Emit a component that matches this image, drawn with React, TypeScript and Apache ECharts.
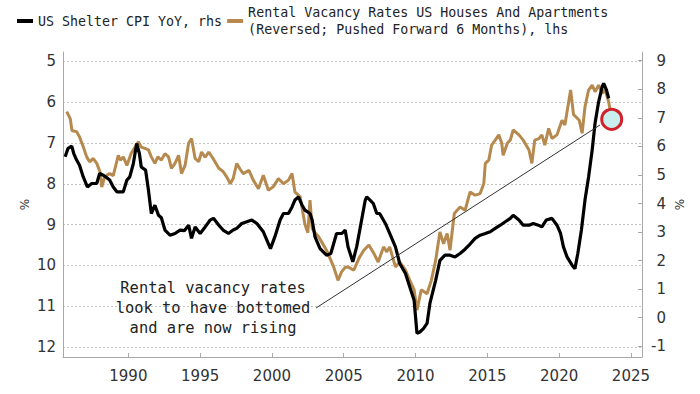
import React, { useEffect, useRef } from "react";
import * as echarts from "echarts";

const shelterName = "US Shelter CPI YoY, rhs";
const vacancyName = "Rental Vacancy Rates US Houses And Apartments\n(Reversed; Pushed Forward 6 Months), lhs";

const shelterYears = [
  1985.6, 1985.8, 1986.06, 1986.2, 1986.4, 1986.6, 1986.86, 1987.15, 1987.45, 1987.8,
  1988.0, 1988.26, 1988.5, 1988.7, 1988.95, 1989.2, 1989.4, 1989.65, 1989.9, 1990.1,
  1990.35, 1990.58, 1990.77, 1990.9, 1991.2, 1991.4, 1991.6, 1991.85, 1992.1, 1992.3,
  1992.55, 1992.9, 1993.25, 1993.6, 1993.9, 1994.2, 1994.4, 1994.65, 1995.0, 1995.35,
  1995.7, 1995.93, 1996.3, 1996.6, 1996.97, 1997.3, 1997.55, 1997.9, 1998.25, 1998.6,
  1998.95, 1999.4, 1999.9, 2000.2, 2000.57, 2000.8, 2001.15, 2001.4, 2001.6, 2001.85,
  2002.1, 2002.3, 2002.65, 2002.8, 2003.0, 2003.35, 2003.8, 2004.1, 2004.5, 2004.87,
  2005.1, 2005.3, 2005.63, 2005.9, 2006.2, 2006.5, 2006.6, 2006.83, 2007.06, 2007.3,
  2007.5, 2007.9, 2008.2, 2008.6, 2008.9, 2009.3, 2009.6, 2009.9, 2010.1, 2010.3,
  2010.55, 2010.8, 2011.0, 2011.4, 2011.7, 2012.05, 2012.4, 2012.75, 2013.1, 2013.45,
  2013.8, 2014.15, 2014.5, 2014.86, 2015.2, 2015.55, 2015.9, 2016.25, 2016.6, 2016.8,
  2017.2, 2017.5, 2017.9, 2018.2, 2018.5, 2018.8, 2019.1, 2019.5, 2019.85, 2020.1,
  2020.3, 2020.55, 2020.9, 2021.1, 2021.3, 2021.55, 2021.8, 2022.05, 2022.3, 2022.5,
  2022.75, 2023.0, 2023.1, 2023.3, 2023.45,
];
const shelterValues = [
  5.64, 5.93, 6.01, 5.75, 5.52, 5.34, 4.93, 4.58, 4.7, 4.7,
  5.05, 4.99, 4.9, 4.82, 4.58, 4.41, 4.41, 4.41, 4.82, 4.93,
  5.4, 6.1, 5.75, 5.28, 5.17, 4.47, 3.65, 3.94, 3.59, 3.5,
  3.07, 2.89, 2.95, 3.07, 3.05, 3.24, 2.78, 3.18, 2.95, 3.18,
  3.42, 3.48, 3.24, 3.07, 2.95, 3.07, 3.13, 3.3, 3.36, 3.42,
  3.3, 3.01, 2.42, 2.83, 3.42, 3.65, 3.65, 3.88, 4.12, 4.23,
  3.94, 3.77, 3.65, 3.42, 2.83, 2.42, 2.19, 2.25, 2.95, 2.95,
  3.07, 2.48, 1.96, 2.48, 3.3, 4.12, 4.23, 4.12, 4.0, 3.65,
  3.65, 3.3, 2.95, 2.48, 1.9, 1.55, 1.08, 0.61, -0.55, -0.5,
  -0.38, -0.2, 0.5, 1.31, 2.01, 2.19, 2.19, 2.13, 2.25, 2.4,
  2.58, 2.78, 2.89, 2.95, 3.01, 3.13, 3.24, 3.36, 3.48, 3.59,
  3.42, 3.24, 3.24, 3.3, 3.25, 3.18, 3.42, 3.48, 3.24, 2.95,
  2.48, 2.13, 1.84, 1.72, 2.25, 3.07, 4.12, 4.93, 5.87, 6.81,
  7.56, 8.09, 8.21, 7.97, 7.68,
];

const vacancyYears = [
  1985.71, 1985.95, 1986.08, 1986.4, 1986.6, 1986.86, 1987.1, 1987.3, 1987.56, 1987.8,
  1988.03, 1988.15, 1988.35, 1988.7, 1988.95, 1989.3, 1989.45, 1989.65, 1989.9, 1990.2,
  1990.47, 1990.7, 1990.9, 1991.15, 1991.4, 1991.6, 1991.85, 1992.05, 1992.3, 1992.55,
  1992.8, 1993.0, 1993.25, 1993.5, 1993.7, 1993.95, 1994.2, 1994.4, 1994.65, 1994.9,
  1995.1, 1995.35, 1995.6, 1995.9, 1996.3, 1996.6, 1996.85, 1997.1, 1997.3, 1997.55,
  1997.8, 1998.0, 1998.4, 1998.7, 1999.06, 1999.4, 1999.75, 2000.1, 2000.45, 2000.8,
  2001.15, 2001.4, 2001.6, 2001.96, 2002.3, 2002.5, 2002.65, 2002.8, 2003.0, 2003.25,
  2003.5, 2003.8, 2004.3, 2004.6, 2004.85, 2005.1, 2005.3, 2005.7, 2006.1, 2006.4,
  2006.75, 2007.1, 2007.4, 2007.77, 2008.0, 2008.2, 2008.6, 2008.9, 2009.3, 2009.6,
  2009.9, 2010.1, 2010.4, 2010.8, 2011.1, 2011.4, 2011.7, 2011.95, 2012.2, 2012.4,
  2012.7, 2013.1, 2013.45, 2013.8, 2014.15, 2014.5, 2014.75, 2014.86, 2015.1, 2015.3,
  2015.55, 2015.8, 2016.0, 2016.1, 2016.4, 2016.6, 2016.8, 2017.2, 2017.5, 2017.9,
  2018.1, 2018.3, 2018.6, 2018.8, 2019.0, 2019.27, 2019.5, 2019.85, 2020.2, 2020.4,
  2020.8, 2021.0, 2021.4, 2021.6, 2021.8, 2022.05, 2022.3, 2022.5, 2022.75, 2023.0,
  2023.2, 2023.45, 2023.6,
];
const vacancyValues = [
  6.23, 6.4, 6.7, 6.72, 6.85, 7.09, 7.34, 7.46, 7.38, 7.5,
  7.71, 8.08, 7.83, 7.75, 7.8, 7.3, 7.42, 7.34, 7.55, 7.25,
  7.1, 6.97, 7.1, 7.13, 7.17, 7.34, 7.5, 7.34, 7.42, 7.26,
  7.34, 7.62, 7.5, 7.3, 7.75, 7.55, 7.0, 6.89, 7.38, 7.46,
  7.22, 7.35, 7.22, 7.38, 7.62, 7.7, 7.83, 8.0, 7.87, 7.5,
  7.65, 7.75, 7.67, 7.91, 8.12, 7.79, 8.16, 8.07, 7.87, 8.0,
  7.91, 7.75, 8.2, 8.32, 9.0, 9.2, 8.4, 9.1, 9.2, 9.3,
  9.45, 9.63, 10.04, 10.37, 10.16, 10.05, 10.04, 10.12, 9.8, 9.63,
  9.5, 9.71, 9.92, 9.55, 9.67, 9.55, 10.04, 9.92, 10.12, 10.37,
  10.6, 11.1, 10.6, 10.7, 10.37, 9.88, 9.18, 9.47, 9.22, 9.63,
  8.73, 8.57, 8.65, 8.2, 8.28, 8.24, 8.0, 7.5, 7.42, 7.05,
  6.93, 6.8, 7.0, 7.3, 7.0, 6.93, 6.68, 6.8, 6.93, 7.17,
  7.5, 6.93, 6.89, 6.8, 7.05, 6.64, 6.89, 6.8, 6.44, 6.56,
  5.7, 6.3, 6.44, 6.76, 6.11, 5.7, 5.58, 5.74, 5.58, 5.78,
  5.7, 5.99, 6.3,
];

const xTickYears = [1990, 1995, 2000, 2005, 2010, 2015, 2020, 2025];
const leftTicks = [5, 6, 7, 8, 9, 10, 11, 12];
const rightTicks = [-1, 0, 1, 2, 3, 4, 5, 6, 7, 8, 9];
const annotationLines = ["Rental vacancy rates", "look to have bottomed", "and are now rising"];

const mono = "'DejaVu Sans Mono', 'Liberation Mono', monospace";
const sans = "'DejaVu Sans', 'Noto Sans', sans-serif";

export default function App() {
  const ref = useRef<HTMLDivElement>(null);

  useEffect(() => {
    if (!ref.current) return;
    const chart = echarts.init(ref.current, null, { renderer: "svg" });
    const shelterData = shelterYears.map((y, i) => [y, shelterValues[i]]);
    const vacancyData = vacancyYears.map((y, i) => [y, vacancyValues[i]]);

    chart.setOption({
      animation: false,
      backgroundColor: "#ffffff",
      legend: {
        data: [shelterName, vacancyName],
        left: 17,
        top: 4,
        icon: "rect",
        itemWidth: 16,
        itemHeight: 4,
        itemGap: 5,
        padding: 0,
        textStyle: {
          fontFamily: mono,
          fontSize: 13.3,
          lineHeight: 17,
          color: "#222",
        },
      },
      grid: { left: 63, right: 58, top: 52, bottom: 37, containLabel: false },
      xAxis: {
        type: "value",
        min: 1985.45,
        max: 2025.77,
        axisLine: { show: true, onZero: false, lineStyle: { color: "#a8a8a8", width: 1 } },
        axisTick: {
          show: true,
          inside: true,
          length: 4,
          customValues: xTickYears,
          lineStyle: { color: "#a8a8a8" },
        },
        axisLabel: {
          customValues: xTickYears,
          formatter: (v: number) => String(Math.round(v)),
          color: "#333",
          fontFamily: sans,
          fontSize: 15,
          margin: 11,
        },
        splitLine: { show: false },
      },
      yAxis: [
        {
          type: "value",
          position: "left",
          inverse: true,
          min: 4.767,
          max: 12.25,
          name: "%",
          nameLocation: "middle",
          nameGap: 32,
          nameRotate: 90,
          nameMoveOverlap: false,
          nameTextStyle: { color: "#333", fontFamily: sans, fontSize: 12 },
          axisLine: { show: true, onZero: false, lineStyle: { color: "#a8a8a8", width: 1 } },
          axisTick: { show: false, customValues: leftTicks },
          axisLabel: {
            customValues: leftTicks,
            color: "#333",
            fontFamily: sans,
            fontSize: 15,
            margin: 7,
          },
          splitLine: {
            show: true,
            lineStyle: { color: "#c4c4c4", width: 1, type: [2, 2] },
          },
        },
        {
          type: "value",
          position: "right",
          min: -1.375,
          max: 9.305,
          name: "%",
          nameLocation: "middle",
          nameGap: 32,
          nameRotate: 90,
          nameMoveOverlap: false,
          nameTextStyle: { color: "#333", fontFamily: sans, fontSize: 12 },
          axisLine: { show: true, onZero: false, lineStyle: { color: "#a8a8a8", width: 1 } },
          axisTick: {
            show: true,
            inside: true,
            length: 4,
            customValues: rightTicks,
            lineStyle: { color: "#a8a8a8" },
          },
          axisLabel: {
            customValues: rightTicks,
            color: "#333",
            fontFamily: sans,
            fontSize: 15,
            margin: 24,
            align: "right",
          },
          splitLine: { show: false },
        },
      ],
      series: [
        {
          name: vacancyName,
          type: "line",
          yAxisIndex: 0,
          data: vacancyData,
          showSymbol: false,
          symbol: "none",
          lineStyle: { color: "#b68a4e", width: 3 },
          itemStyle: { color: "#b68a4e" },
          z: 2,
        },
        {
          name: shelterName,
          type: "line",
          yAxisIndex: 1,
          data: shelterData,
          showSymbol: false,
          symbol: "none",
          lineStyle: { color: "#000000", width: 3.2 },
          itemStyle: { color: "#000000" },
          z: 3,
        },
      ],
      graphic: [
        {
          type: "line",
          shape: { x1: 316, y1: 308, x2: 600, y2: 125 },
          style: { stroke: "#333", lineWidth: 1 },
          z: 10,
        },
        {
          type: "text",
          x: 213,
          y: 278,
          style: {
            text: annotationLines.join("\n"),
            font: `15.4px ${mono}`,
            fill: "#222",
            align: "center",
            verticalAlign: "top",
            lineHeight: 20,
          },
          z: 10,
        },
        {
          type: "circle",
          shape: { cx: 611.7, cy: 119.3, r: 10 },
          style: { fill: "#c8eeee", stroke: "#d0202a", lineWidth: 3 },
          z: 11,
        },
      ],
    });

    return () => chart.dispose();
  }, []);

  return (
    <div
      ref={ref}
      style={{ width: 700, height: 394, position: "absolute", left: 0, top: 0 }}
    />
  );
}
